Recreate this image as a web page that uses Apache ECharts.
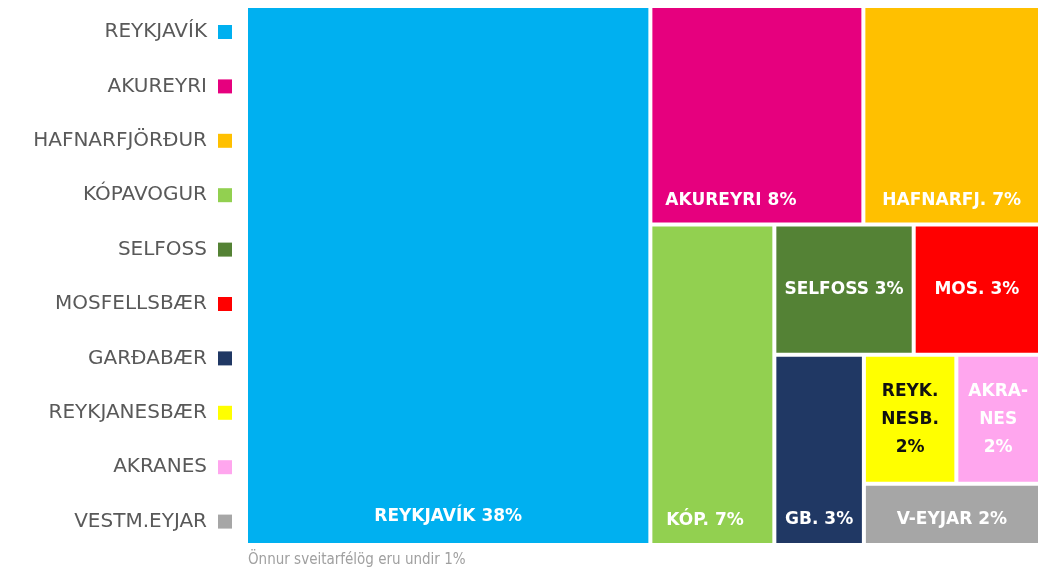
<!DOCTYPE html>
<html>
<head>
<meta charset="utf-8">
<script src="https://cdn.jsdelivr.net/npm/echarts@6/dist/echarts.min.js"></script>
<style>
  html, body { margin: 0; padding: 0; background: #fff; }
  #main { width: 1038px; height: 569px; }
</style>
</head>
<body>
<div id="main"></div>
<script>
// sveitarfélög og hlutfall (%), lesið af flatarmáli reitanna
const towns = ['REYKJAVÍK', 'AKUREYRI', 'HAFNARFJÖRÐUR', 'KÓPAVOGUR', 'SELFOSS',
  'MOSFELLSBÆR', 'GARÐABÆR', 'REYKJANESBÆR', 'AKRANES', 'VESTM.EYJAR']
const shortNames = ['REYKJAVÍK', 'AKUREYRI', 'HAFNARFJ.', 'KÓP.', 'SELFOSS',
  'MOS.', 'GB.', 'REYK.\nNESB.\n', 'AKRA-\nNES\n', 'V-EYJAR']
const shares = [38.4, 8.2, 6.8, 7.0, 3.2, 2.9, 3.0, 2.1, 1.9, 1.9]
const colors = ['#00b0f0', '#e6007e', '#ffc000', '#92d050', '#548235',
  '#ff0000', '#203864', '#ffff00', '#ffa6ee', '#a6a6a6']
const footnote = 'Önnur sveitarfélög eru undir 1%'

// hvar merkið situr í hverjum reit
const labelPos = ['insideBottom', 'insideBottomLeft', 'insideBottom', 'insideBottomLeft', 'inside',
  'inside', 'insideBottom', 'inside', 'inside', 'insideBottom']
const labelDist = [13, 8, 8, 9, 0, 0, 10, 0, 0, 10]

const chart = echarts.init(document.getElementById('main'))

const leaf = (i) => {
  const multi = shortNames[i].indexOf('\n') >= 0
  const pct = Math.round(shares[i]) + '%'
  return {
    name: towns[i],
    value: shares[i],
    itemStyle: { color: colors[i] },
    label: {
      position: labelPos[i],
      distance: labelDist[i],
      color: i === 7 ? '#111' : '#fff',
      align: multi ? 'center' : undefined,
      lineHeight: multi ? 28 : undefined,
      formatter: multi ? shortNames[i] + pct : shortNames[i] + ' ' + pct
    }
  }
}
const group = (kids) => ({ name: '', children: kids })

// uppröðun reitanna eins og á myndinni
const treeData = [
  leaf(0),
  group([
    group([leaf(1), leaf(2)]),
    group([
      leaf(3),
      group([
        group([leaf(4), leaf(5)]),
        group([
          leaf(6),
          group([group([leaf(7), leaf(8)]), leaf(9)])
        ])
      ])
    ])
  ])
]

const option = {
  title: {
    text: footnote,
    left: 248,
    bottom: 1,
    padding: 0,
    textStyle: {
      fontFamily: 'Liberation Sans Narrow, DejaVu Sans Condensed, sans-serif',
      fontSize: 15,
      fontWeight: 'normal',
      color: '#a0a0a0'
    }
  },
  legend: {
    orient: 'vertical',
    right: 806,
    top: 22,
    padding: 0,
    align: 'right',
    icon: 'rect',
    itemWidth: 14,
    itemHeight: 14,
    itemGap: 34.4,
    selectedMode: false,
    data: towns,
    textStyle: {
      fontFamily: 'DejaVu Sans, sans-serif',
      fontSize: 20,
      color: '#595959',
      padding: [0, 6, 0, 0]
    }
  },
  series: [
    {
      // aðeins til að fá skýringarnar
      type: 'pie',
      radius: [0, 0],
      silent: true,
      label: { show: false },
      data: towns.map((t, i) => ({ name: t, value: shares[i], itemStyle: { color: colors[i] } }))
    },
    {
      type: 'treemap',
      left: 248,
      top: 8,
      right: 0,
      bottom: 26,
      roam: false,
      nodeClick: false,
      sort: false,
      squareRatio: 1,
      breadcrumb: { show: false },
      label: {
        show: true,
        overflow: 'none',
        fontFamily: 'DejaVu Sans, sans-serif',
        fontWeight: 'bold',
        fontSize: 17
      },
      upperLabel: { show: false },
      itemStyle: { gapWidth: 4, borderWidth: 0, borderColor: '#fff' },
      data: treeData
    }
  ]
}

chart.setOption(option)
</script>
</body>
</html>
